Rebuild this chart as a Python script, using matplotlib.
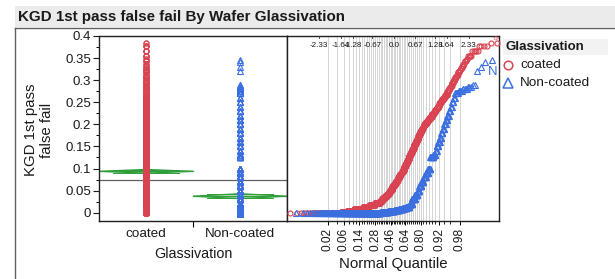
import numpy as np
import matplotlib
matplotlib.use('Agg')
import matplotlib.pyplot as plt
from matplotlib.patches import Polygon, Rectangle
from matplotlib.lines import Line2D
from matplotlib.ticker import FuncFormatter
from statistics import NormalDist

plt.rcParams['font.family'] = ['Liberation Sans', 'DejaVu Sans']

# ---------------- data ----------------
categories = ['coated', 'Non-coated']

red_values = [0.000, 0.001, 0.0035, 0.0075, 0.0125, 0.0175, 0.0225, 0.0275, 0.0325, 0.0375,
              0.0425, 0.0475, 0.0525, 0.0575, 0.0625, 0.0675, 0.0725, 0.0775, 0.0825, 0.0875,
              0.0925, 0.0975, 0.1025, 0.1075, 0.1125, 0.1175, 0.1225, 0.1275, 0.1325, 0.1375,
              0.1425, 0.1475, 0.1525, 0.1575, 0.1625, 0.1675, 0.1725, 0.1775, 0.1825, 0.1875,
              0.1925, 0.1975, 0.2025, 0.2075, 0.2125, 0.2175, 0.2225, 0.2275, 0.2325, 0.2375,
              0.2425, 0.2475, 0.2525, 0.2575, 0.2625, 0.2675, 0.2725, 0.2775, 0.2825, 0.2875,
              0.2925, 0.2975, 0.3025, 0.3075, 0.3125, 0.3175, 0.3225, 0.3275, 0.3325, 0.3375,
              0.3425, 0.3475, 0.355, 0.366, 0.377, 0.385]
red_counts = [75, 33, 56, 93, 81, 83, 81, 44, 43, 44,
              28, 27, 29, 27, 27, 26, 26, 26, 24, 23,
              24, 22, 18, 18, 18, 18, 16, 15, 17, 15,
              17, 15, 17, 15, 14, 14, 14, 14, 14, 14,
              14, 18, 19, 18, 17, 16, 17, 12, 12, 12,
              9, 9, 9, 9, 8, 9, 5, 5, 5, 5,
              5, 4, 3, 4, 3, 4, 3, 3, 2, 2,
              3, 2, 5, 5, 4, 2]

blue_values = [0.000, 0.002, 0.004, 0.006, 0.008, 0.010, 0.014, 0.020, 0.030, 0.040,
               0.050, 0.060, 0.070, 0.080, 0.090, 0.100, 0.125, 0.130, 0.140, 0.150,
               0.160, 0.170, 0.180, 0.190, 0.200, 0.210, 0.220, 0.230, 0.240, 0.250,
               0.260, 0.270, 0.275, 0.280, 0.285, 0.290, 0.320, 0.330, 0.340, 0.345]
blue_counts = [290, 80, 64, 48, 40, 32, 32, 24, 24, 22,
               15, 15, 15, 15, 15, 13, 16, 10, 6, 6,
               6, 5, 5, 5, 5, 4, 4, 4, 3, 3,
               3, 5, 5, 5, 3, 2, 1, 1, 1, 1]

prob_labels = ['0.02', '0.06', '0.14', '0.28', '0.46', '0.64', '0.80', '0.92', '0.98']
z_labels = ['-2.33', '-1.64', '-1.28', '-0.67', '0.0', '0.67', '1.28', '1.64', '2.33']

red_c = '#DA4452'
blue_c = '#3B6FE0'
green_c = '#2E9E3A'

# ---------------- figure ----------------
W, H = 615, 279
fig = plt.figure(figsize=(W / 100, H / 100), dpi=100)

def fx(x):
    return x / W

def fy(y):
    return 1 - y / H

# title bar
fig.patches.append(Rectangle((fx(15), fy(27)), (600) / W, 21 / H, transform=fig.transFigure,
                             facecolor='#ebebeb', edgecolor='none'))
fig.text(fx(18), fy(16.5), 'KGD 1st pass false fail By Wafer Glassivation', fontsize=10.9,
         fontweight='bold', va='center', ha='left', color='#1a1a1a')
fig.add_artist(Line2D([fx(15), fx(15)], [fy(27.5), fy(279)], color='#606060', lw=1.0))
fig.add_artist(Line2D([fx(15), fx(615)], [fy(27.5), fy(27.5)], color='#606060', lw=1.0))

red = np.repeat(np.array(red_values), red_counts)
blue = np.repeat(np.array(blue_values), blue_counts)
groups = [red, blue]
colors = [red_c, blue_c]
markers = ['o', '^']
msizes = [3.6, 4.2]

ylo, yhi = -0.0188, 0.4011
top_px, bot_px = 35.5, 221

# ---------------- left: oneway strip ----------------
ax1 = fig.add_axes([fx(99), fy(bot_px), (287 - 99) / W, (bot_px - top_px) / H])
ax1.set_xlim(-0.5, 1.5)
ax1.set_ylim(ylo, yhi)

n_all = sum(len(g) for g in groups)
grand = np.concatenate(groups).mean()
ss = sum(((g - g.mean()) ** 2).sum() for g in groups)
sp = np.sqrt(ss / (n_all - len(groups)))
ax1.axhline(grand, color='#606060', lw=0.9, zorder=1)
for i, g in enumerate(groups):
    m = g.mean()
    h = 1.96 * sp / np.sqrt(len(g))
    poly = Polygon([(i - 0.5, m), (i, m + h), (i + 0.5, m), (i, m - h)], closed=True,
                   facecolor='#bfe3bf', edgecolor=green_c, lw=0.9, zorder=2)
    ax1.add_patch(poly)
    ax1.plot([i - 0.5, i + 0.5], [m, m], color=green_c, lw=0.9, zorder=2)
    ov = h / np.sqrt(2)
    for s in (1, -1):
        ax1.plot([i - 0.5 + 0.5 * (1 - ov / h), i + 0.5 - 0.5 * (1 - ov / h)],
                 [m + s * ov, m + s * ov], color=green_c, lw=0.7, zorder=2)
    ax1.plot(np.full(len(g), i), g, linestyle='none', marker=markers[i], mfc='none',
             mec=colors[i], ms=msizes[i], mew=0.8, zorder=3)

ax1.set_yticks(np.arange(0, 0.4001, 0.05))
ax1.yaxis.set_major_formatter(FuncFormatter(lambda v, p: '{:g}'.format(round(v, 3))))
ax1.set_yticks(np.arange(0.025, 0.4, 0.05), minor=True)
ax1.tick_params(axis='y', which='major', length=4, width=0.8, labelsize=9.5, pad=1.5, colors='#1a1a1a')
ax1.tick_params(axis='y', which='minor', length=2, width=0.7)
ax1.set_xticks([0, 1])
ax1.set_xticklabels(categories)
ax1.set_xticks([0.5], minor=True)
ax1.tick_params(axis='x', which='major', length=0, labelsize=9.7, pad=5, colors='#1a1a1a')
ax1.tick_params(axis='x', which='minor', length=4, width=0.8)
ax1.set_xlabel('Glassivation', fontsize=10.3, labelpad=5, color='#1a1a1a')
for sp_ in ax1.spines.values():
    sp_.set_color('#202020')
    sp_.set_linewidth(1.0)

fig.text(fx(39), fy(130), 'KGD 1st pass\nfalse fail', rotation=90, ha='center', va='center',
         fontsize=10.8, linespacing=1.15, color='#1a1a1a')

# ---------------- right: normal quantile plot ----------------
ax2 = fig.add_axes([fx(287), fy(bot_px), (499 - 287) / W, (bot_px - top_px) / H])
ax2.set_xlim(-3.317, 3.267)
ax2.set_ylim(ylo, yhi)
nd = NormalDist()
grid_p = np.arange(0.02, 0.9801, 0.02)
grid_z = [nd.inv_cdf(p) for p in grid_p]
for z in grid_z:
    ax2.axvline(z, color='#d4d4d4', lw=0.7, zorder=0)
ax2.set_xticks(grid_z, minor=True)
lab_z = [nd.inv_cdf(float(p)) for p in prob_labels]
ax2.set_xticks(lab_z)
ax2.set_xticklabels(prob_labels, rotation=90, fontsize=8.6, color='#1a1a1a')
ax2.tick_params(axis='x', which='major', length=3, width=0.7, pad=2)
ax2.tick_params(axis='x', which='minor', length=2, width=0.6)
ax2.set_yticks([])
for lab in z_labels:
    ax2.text(float(lab), 0.946, lab, transform=ax2.get_xaxis_transform(), ha='center',
             va='center', fontsize=5.8, color='#1a1a1a', zorder=5)
    ax2.plot([float(lab), float(lab)], [1.0, 0.985], transform=ax2.get_xaxis_transform(),
             color='#303030', lw=0.6, zorder=5)

for i, g in enumerate(groups):
    s = np.sort(g)
    n = len(s)
    zq = [nd.inv_cdf(k / (n + 1)) for k in range(1, n + 1)]
    ax2.plot(zq, s, linestyle='none', marker=markers[i], mfc='none', mec=colors[i],
             ms=msizes[i], mew=0.8, zorder=3, clip_on=False)

ax2.text(2.93, 0.3185, 'N', color=blue_c, fontsize=9.5, va='center', ha='left',
         clip_on=True, zorder=4)
ax2.text(3.05, 0.385, 'co', color=red_c, fontsize=5.5, rotation=40, va='bottom', ha='left',
         clip_on=True, zorder=4)
ax2.set_xlabel('Normal Quantile', fontsize=10.8, labelpad=4, color='#1a1a1a')
for sp_ in ax2.spines.values():
    sp_.set_color('#202020')
    sp_.set_linewidth(1.0)

# ---------------- legend ----------------
fig.patches.append(Rectangle((fx(503), fy(55)), 105 / W, 16 / H, transform=fig.transFigure,
                             facecolor='#f2f2f2', edgecolor='none'))
fig.text(fx(505), fy(47.5), 'Glassivation', fontsize=9.5, fontweight='bold', va='center',
         ha='left', color='#1a1a1a')
for k, (lab, c, mk, ms) in enumerate(zip(categories, colors, markers, msizes)):
    yy = 65.5 + 17 * k
    fig.add_artist(Line2D([fx(508)], [fy(yy)], marker=mk, mfc='none', mec=c, ms=ms + 2.6,
                          mew=1.1, linestyle='none'))
    fig.text(fx(520), fy(yy), lab, fontsize=9.7, va='center', ha='left', color='#1a1a1a')

fig.savefig('out.png', dpi=100)
